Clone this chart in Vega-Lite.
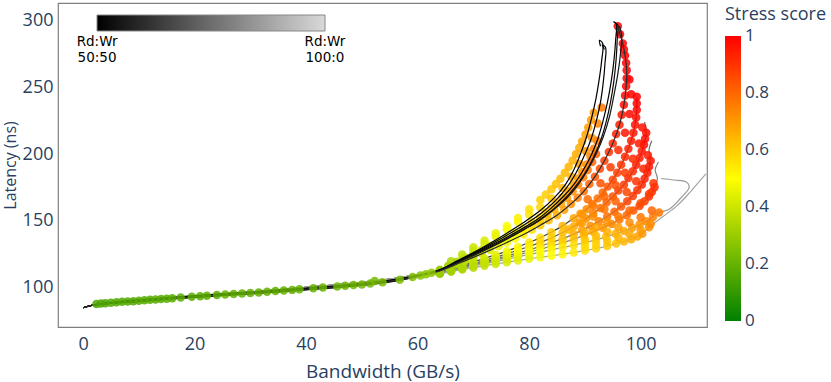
{
"$schema":"https://vega.github.io/schema/vega-lite/v6.json",
"width":649,"height":324,
"autosize":{"type":"none"},
"padding":{"left":58,"top":3,"right":124,"bottom":55},
"background":"white",
"config":{
 "view":{"stroke":"#808080","strokeWidth":1.2},
 "font":"Open Sans",
 "axis":{"grid":false,"ticks":false,"tickSize":0,"domain":false,"labelFont":"Open Sans","labelFontSize":18,"labelColor":"#2a3f5f","titleFont":"Open Sans","titleFontSize":18,"titleFontWeight":"normal","titleColor":"#2a3f5f"}
},
"data":{"values":[
{"c":"a","r":50,"x":0,"y":84.5},{"c":"a","r":50,"x":2,"y":86.6},{"c":"a","r":50,"x":5,"y":88.6},{"c":"a","r":50,"x":10,"y":90.4},{"c":"a","r":50,"x":20,"y":93.6},{"c":"a","r":50,"x":30,"y":96.2},{"c":"a","r":50,"x":40,"y":99.2},{"c":"a","r":50,"x":50,"y":102.6},{"c":"a","r":50,"x":56,"y":105.8},{"c":"a","r":50,"x":60,"y":108.8},
{"c":"a","r":50,"x":62,"y":110.8},{"c":"a","r":50,"x":64,"y":113},{"c":"a","r":50,"x":67,"y":119.5},{"c":"a","r":50,"x":70,"y":126},{"c":"a","r":50,"x":73,"y":133},{"c":"a","r":50,"x":76,"y":140.5},{"c":"a","r":50,"x":79,"y":148.5},{"c":"a","r":50,"x":82,"y":157.5},{"c":"a","r":50,"x":84.5,"y":167},{"c":"a","r":50,"x":86.5,"y":177},{"c":"a","r":50,"x":88,"y":188},{"c":"a","r":50,"x":89.2,"y":200},{"c":"a","r":50,"x":90.3,"y":213},{"c":"a","r":50,"x":91.2,"y":227},{"c":"a","r":50,"x":92,"y":242},{"c":"a","r":50,"x":92.6,"y":257},{"c":"a","r":50,"x":93,"y":270},{"c":"a","r":50,"x":93.2,"y":283},{"c":"a","r":50,"x":92.6,"y":285.5},{"c":"a","r":50,"x":92.8,"y":281},
{"c":"b","r":50,"x":0,"y":84.5},{"c":"b","r":50,"x":2,"y":86.6},{"c":"b","r":50,"x":5,"y":88.3},{"c":"b","r":50,"x":10,"y":90},{"c":"b","r":50,"x":20,"y":93.2},{"c":"b","r":50,"x":30,"y":95.8},{"c":"b","r":50,"x":40,"y":98.8},{"c":"b","r":50,"x":50,"y":102.2},{"c":"b","r":50,"x":56,"y":105.4},{"c":"b","r":50,"x":60,"y":108.5},
{"c":"b","r":50,"x":62,"y":110.5},{"c":"b","r":50,"x":64,"y":112.8},{"c":"b","r":50,"x":67,"y":119},{"c":"b","r":50,"x":70,"y":125.3},{"c":"b","r":50,"x":73,"y":132},{"c":"b","r":50,"x":76,"y":139},{"c":"b","r":50,"x":79,"y":146.5},{"c":"b","r":50,"x":82,"y":155},{"c":"b","r":50,"x":84.5,"y":164},{"c":"b","r":50,"x":86.6,"y":174},{"c":"b","r":50,"x":88.3,"y":185},{"c":"b","r":50,"x":89.7,"y":197},{"c":"b","r":50,"x":91,"y":210},{"c":"b","r":50,"x":92,"y":224},{"c":"b","r":50,"x":92.8,"y":239},{"c":"b","r":50,"x":93.3,"y":254},{"c":"b","r":50,"x":93.6,"y":268},{"c":"b","r":50,"x":93.7,"y":280},{"c":"b","r":50,"x":93.1,"y":282},{"c":"b","r":50,"x":93.5,"y":278.5},
{"c":"d","r":50,"x":0,"y":84.5},{"c":"d","r":50,"x":2,"y":86.6},{"c":"d","r":50,"x":5,"y":88},{"c":"d","r":50,"x":10,"y":89.6},{"c":"d","r":50,"x":20,"y":92.8},{"c":"d","r":50,"x":30,"y":95.4},{"c":"d","r":50,"x":40,"y":98.4},{"c":"d","r":50,"x":50,"y":101.8},{"c":"d","r":50,"x":56,"y":105},{"c":"d","r":50,"x":60,"y":108.3},
{"c":"d","r":50,"x":62,"y":110.4},{"c":"d","r":50,"x":64,"y":113,"s":0.3},{"c":"d","r":50,"x":67,"y":119,"s":0.35},{"c":"d","r":50,"x":70,"y":125,"s":0.39},{"c":"d","r":50,"x":73,"y":131,"s":0.43},{"c":"d","r":50,"x":76,"y":137.5,"s":0.47},{"c":"d","r":50,"x":79,"y":144.5,"s":0.53},{"c":"d","r":50,"x":82,"y":152.5,"s":0.58},{"c":"d","r":50,"x":84,"y":159.5,"s":0.62},{"c":"d","r":50,"x":86,"y":167.5,"s":0.65},{"c":"d","r":50,"x":88,"y":177,"s":0.68},{"c":"d","r":50,"x":89.5,"y":186.5,"s":0.71},{"c":"d","r":50,"x":91,"y":198,"s":0.74},{"c":"d","r":50,"x":92.2,"y":210,"s":0.77},{"c":"d","r":50,"x":93.2,"y":224},{"c":"d","r":50,"x":94,"y":238},{"c":"d","r":50,"x":94.7,"y":254},{"c":"d","r":50,"x":95.2,"y":270},{"c":"d","r":50,"x":95.5,"y":285},{"c":"d","r":50,"x":95.6,"y":298},{"c":"d","r":50,"x":95.1,"y":299.5},
{"c":"e","r":52,"x":0,"y":84.5},{"c":"e","r":52,"x":2,"y":86.6},{"c":"e","r":52,"x":5,"y":87.8},{"c":"e","r":52,"x":10,"y":89.3},{"c":"e","r":52,"x":20,"y":92.5},{"c":"e","r":52,"x":30,"y":95.1},{"c":"e","r":52,"x":40,"y":98.1},{"c":"e","r":52,"x":50,"y":101.5},{"c":"e","r":52,"x":56,"y":104.7},{"c":"e","r":52,"x":60,"y":108.1},
{"c":"e","r":52,"x":62,"y":110.3},{"c":"e","r":52,"x":64,"y":112.8},{"c":"e","r":52,"x":67,"y":118.5},{"c":"e","r":52,"x":70,"y":124.3},{"c":"e","r":52,"x":73,"y":130.2},{"c":"e","r":52,"x":76,"y":136.5},{"c":"e","r":52,"x":79,"y":143.3},{"c":"e","r":52,"x":82,"y":151},{"c":"e","r":52,"x":84.2,"y":158},{"c":"e","r":52,"x":86.3,"y":166},{"c":"e","r":52,"x":88.3,"y":175.5},{"c":"e","r":52,"x":90,"y":185.5},{"c":"e","r":52,"x":91.5,"y":197},{"c":"e","r":52,"x":92.8,"y":210},{"c":"e","r":52,"x":93.8,"y":224},{"c":"e","r":52,"x":94.6,"y":239},{"c":"e","r":52,"x":95.2,"y":255},{"c":"e","r":52,"x":95.6,"y":271},{"c":"e","r":52,"x":95.8,"y":286},{"c":"e","r":52,"x":95.9,"y":297},{"c":"e","r":52,"x":95.4,"y":298.5},
{"c":"f","r":55,"x":0,"y":84.5},{"c":"f","r":55,"x":2,"y":86.6},{"c":"f","r":55,"x":5,"y":87.7},{"c":"f","r":55,"x":10,"y":89.1},{"c":"f","r":55,"x":20,"y":92.3},{"c":"f","r":55,"x":30,"y":94.9},{"c":"f","r":55,"x":40,"y":97.9},{"c":"f","r":55,"x":50,"y":101.3},{"c":"f","r":55,"x":56,"y":104.5},{"c":"f","r":55,"x":60,"y":108},
{"c":"f","r":55,"x":62,"y":110.2},{"c":"f","r":55,"x":64,"y":112.5,"s":0.3},{"c":"f","r":55,"x":67,"y":118,"s":0.35},{"c":"f","r":55,"x":70,"y":123.5,"s":0.39},{"c":"f","r":55,"x":73,"y":129.5,"s":0.43},{"c":"f","r":55,"x":76,"y":136,"s":0.48},{"c":"f","r":55,"x":79,"y":143,"s":0.54},{"c":"f","r":55,"x":82,"y":150.5,"s":0.6},{"c":"f","r":55,"x":84.5,"y":158.5,"s":0.65},{"c":"f","r":55,"x":86.8,"y":167,"s":0.7},{"c":"f","r":55,"x":88.8,"y":177,"s":0.74},{"c":"f","r":55,"x":90.5,"y":188,"s":0.78},{"c":"f","r":55,"x":92,"y":200,"s":0.82},{"c":"f","r":55,"x":93.3,"y":213},{"c":"f","r":55,"x":94.4,"y":228},{"c":"f","r":55,"x":95.2,"y":244},{"c":"f","r":55,"x":95.9,"y":260},{"c":"f","r":55,"x":96.4,"y":276},{"c":"f","r":55,"x":96.6,"y":289},{"c":"f","r":55,"x":96.2,"y":296},
{"c":"g","r":60,"x":0,"y":84.5},{"c":"g","r":60,"x":2,"y":86.6},{"c":"g","r":60,"x":5,"y":88},{"c":"g","r":60,"x":10,"y":89.6},{"c":"g","r":60,"x":20,"y":92.8},{"c":"g","r":60,"x":30,"y":95.4},{"c":"g","r":60,"x":40,"y":98.4},{"c":"g","r":60,"x":50,"y":101.8},{"c":"g","r":60,"x":56,"y":105},{"c":"g","r":60,"x":60,"y":108.3},
{"c":"g","r":60,"x":62,"y":110},{"c":"g","r":60,"x":64,"y":112.2,"s":0.3},{"c":"g","r":60,"x":67,"y":117.2,"s":0.35},{"c":"g","r":60,"x":70,"y":122.3,"s":0.39},{"c":"g","r":60,"x":73,"y":127.8,"s":0.43},{"c":"g","r":60,"x":76,"y":133.5,"s":0.48},{"c":"g","r":60,"x":79,"y":139.5,"s":0.53},{"c":"g","r":60,"x":82,"y":146.5,"s":0.6},{"c":"g","r":60,"x":85,"y":154,"s":0.66},{"c":"g","r":60,"x":87.5,"y":162.5,"s":0.72},{"c":"g","r":60,"x":89.8,"y":172,"s":0.78},{"c":"g","r":60,"x":91.8,"y":183,"s":0.84},{"c":"g","r":60,"x":93.5,"y":195,"s":0.88},{"c":"g","r":60,"x":95,"y":208,"s":0.92},{"c":"g","r":60,"x":96.2,"y":222,"s":0.95},{"c":"g","r":60,"x":97,"y":237,"s":0.97},{"c":"g","r":60,"x":97.4,"y":251,"s":0.99},{"c":"g","r":60,"x":97.5,"y":263,"s":1},{"c":"g","r":60,"x":97.2,"y":274,"s":1},{"c":"g","r":60,"x":96.8,"y":283,"s":1},{"c":"g","r":60,"x":96.3,"y":290,"s":1},{"c":"g","r":60,"x":95.9,"y":296,"s":1},
{"c":"h","r":65,"x":0,"y":84.5},{"c":"h","r":65,"x":2,"y":86.7},{"c":"h","r":65,"x":5,"y":88.2},{"c":"h","r":65,"x":10,"y":90},{"c":"h","r":65,"x":20,"y":93.3},{"c":"h","r":65,"x":30,"y":96.2},{"c":"h","r":65,"x":40,"y":99.8},{"c":"h","r":65,"x":50,"y":103.5},{"c":"h","r":65,"x":56,"y":106.6},{"c":"h","r":65,"x":60,"y":109.3},
{"c":"h","r":65,"x":62,"y":109.9},{"c":"h","r":65,"x":64,"y":111.6,"s":0.3},{"c":"h","r":65,"x":66,"y":114,"s":0.33},{"c":"h","r":65,"x":68,"y":116.5,"s":0.36},{"c":"h","r":65,"x":70,"y":119,"s":0.39},{"c":"h","r":65,"x":72,"y":121.5,"s":0.42},{"c":"h","r":65,"x":74,"y":124.2,"s":0.45},{"c":"h","r":65,"x":76,"y":127,"s":0.48},{"c":"h","r":65,"x":78,"y":130.2,"s":0.51},{"c":"h","r":65,"x":80,"y":133.5,"s":0.54},{"c":"h","r":65,"x":82,"y":137,"s":0.57},{"c":"h","r":65,"x":84,"y":141.3,"s":0.6},{"c":"h","r":65,"x":86,"y":146,"s":0.64},{"c":"h","r":65,"x":88,"y":151.8,"s":0.68},{"c":"h","r":65,"x":90.3,"y":158.5,"s":0.73},{"c":"h","r":65,"x":92.3,"y":166.5,"s":0.78},{"c":"h","r":65,"x":94.1,"y":175.5,"s":0.83},{"c":"h","r":65,"x":95.8,"y":186,"s":0.88},{"c":"h","r":65,"x":97.2,"y":198,"s":0.92},{"c":"h","r":65,"x":98.3,"y":210,"s":0.95},{"c":"h","r":65,"x":99,"y":222,"s":0.97},{"c":"h","r":65,"x":99.3,"y":233,"s":0.99},{"c":"h","r":65,"x":99.3,"y":243,"s":1},
{"c":"i","r":70,"x":0,"y":84.5},{"c":"i","r":70,"x":2,"y":86.7},{"c":"i","r":70,"x":5,"y":88.2},{"c":"i","r":70,"x":10,"y":90},{"c":"i","r":70,"x":20,"y":93.3},{"c":"i","r":70,"x":30,"y":96.2},{"c":"i","r":70,"x":40,"y":99.8},{"c":"i","r":70,"x":50,"y":103.5},{"c":"i","r":70,"x":56,"y":106.6},{"c":"i","r":70,"x":60,"y":109.3},
{"c":"i","r":70,"x":62,"y":109.8},{"c":"i","r":70,"x":64,"y":111.2,"s":0.3},{"c":"i","r":70,"x":66,"y":113.3,"s":0.33},{"c":"i","r":70,"x":68,"y":115.5,"s":0.36},{"c":"i","r":70,"x":70,"y":117.7,"s":0.39},{"c":"i","r":70,"x":72,"y":120,"s":0.42},{"c":"i","r":70,"x":74,"y":122.4,"s":0.45},{"c":"i","r":70,"x":76,"y":125,"s":0.48},{"c":"i","r":70,"x":78,"y":127.7,"s":0.51},{"c":"i","r":70,"x":80,"y":130.5,"s":0.54},{"c":"i","r":70,"x":82,"y":133.6,"s":0.57},{"c":"i","r":70,"x":84,"y":137,"s":0.6},{"c":"i","r":70,"x":86,"y":141,"s":0.63},{"c":"i","r":70,"x":88,"y":145.5,"s":0.67},{"c":"i","r":70,"x":90.2,"y":151.5,"s":0.72},{"c":"i","r":70,"x":92.8,"y":159.5,"s":0.78},{"c":"i","r":70,"x":95,"y":168,"s":0.84},{"c":"i","r":70,"x":97,"y":177,"s":0.89},{"c":"i","r":70,"x":98.6,"y":187,"s":0.92},{"c":"i","r":70,"x":99.8,"y":197,"s":0.95},{"c":"i","r":70,"x":100.6,"y":207,"s":0.97},{"c":"i","r":70,"x":101,"y":216,"s":0.98},{"c":"i","r":70,"x":100.7,"y":224},
{"c":"j","r":75,"x":0,"y":84.5},{"c":"j","r":75,"x":2,"y":86.7},{"c":"j","r":75,"x":5,"y":88.2},{"c":"j","r":75,"x":10,"y":90},{"c":"j","r":75,"x":20,"y":93.3},{"c":"j","r":75,"x":30,"y":96.2},{"c":"j","r":75,"x":40,"y":99.8},{"c":"j","r":75,"x":50,"y":103.5},{"c":"j","r":75,"x":56,"y":106.6},{"c":"j","r":75,"x":60,"y":109.3},
{"c":"j","r":75,"x":62,"y":109.7},{"c":"j","r":75,"x":64,"y":110.9,"s":0.3},{"c":"j","r":75,"x":66,"y":112.9,"s":0.33},{"c":"j","r":75,"x":68,"y":115,"s":0.35},{"c":"j","r":75,"x":70,"y":117,"s":0.38},{"c":"j","r":75,"x":72,"y":119,"s":0.41},{"c":"j","r":75,"x":74,"y":121.2,"s":0.44},{"c":"j","r":75,"x":76,"y":123.5,"s":0.47},{"c":"j","r":75,"x":78,"y":125.7,"s":0.5},{"c":"j","r":75,"x":80,"y":128,"s":0.53},{"c":"j","r":75,"x":82,"y":130.7,"s":0.56},{"c":"j","r":75,"x":84,"y":133.5,"s":0.59},{"c":"j","r":75,"x":86,"y":136.4,"s":0.62},{"c":"j","r":75,"x":88,"y":139.8,"s":0.66},{"c":"j","r":75,"x":91,"y":146,"s":0.72},{"c":"j","r":75,"x":94,"y":153,"s":0.78},{"c":"j","r":75,"x":96.5,"y":160.5,"s":0.84},{"c":"j","r":75,"x":98.6,"y":168.5,"s":0.89},{"c":"j","r":75,"x":100.2,"y":177,"s":0.92},{"c":"j","r":75,"x":101.2,"y":186,"s":0.95},{"c":"j","r":75,"x":101.8,"y":195,"s":0.96},{"c":"j","r":75,"x":101.5,"y":203},{"c":"j","r":75,"x":102,"y":210},
{"c":"k","r":80,"x":0,"y":84.5},{"c":"k","r":80,"x":2,"y":86.7},{"c":"k","r":80,"x":5,"y":88.2},{"c":"k","r":80,"x":10,"y":90},{"c":"k","r":80,"x":20,"y":93.3},{"c":"k","r":80,"x":30,"y":96.2},{"c":"k","r":80,"x":40,"y":99.8},{"c":"k","r":80,"x":50,"y":103.5},{"c":"k","r":80,"x":56,"y":106.6},{"c":"k","r":80,"x":60,"y":109.3},
{"c":"k","r":80,"x":62,"y":109.6},{"c":"k","r":80,"x":64,"y":110.6,"s":0.3},{"c":"k","r":80,"x":66,"y":112.5,"s":0.32},{"c":"k","r":80,"x":68,"y":114.5,"s":0.35},{"c":"k","r":80,"x":70,"y":116.4,"s":0.37},{"c":"k","r":80,"x":72,"y":118.3,"s":0.4},{"c":"k","r":80,"x":74,"y":120.3,"s":0.43},{"c":"k","r":80,"x":76,"y":122.3,"s":0.45},{"c":"k","r":80,"x":78,"y":124.3,"s":0.48},{"c":"k","r":80,"x":80,"y":126.3,"s":0.5},{"c":"k","r":80,"x":82,"y":128.5,"s":0.53},{"c":"k","r":80,"x":84,"y":130.8,"s":0.56},{"c":"k","r":80,"x":86,"y":133.3,"s":0.59},{"c":"k","r":80,"x":88,"y":136,"s":0.62},{"c":"k","r":80,"x":91.5,"y":141.5,"s":0.68},{"c":"k","r":80,"x":94.8,"y":147.5,"s":0.74},{"c":"k","r":80,"x":97.5,"y":154,"s":0.8},{"c":"k","r":80,"x":99.8,"y":161,"s":0.86},{"c":"k","r":80,"x":101.5,"y":168,"s":0.9},{"c":"k","r":80,"x":102.5,"y":175,"s":0.92},{"c":"k","r":80,"x":103,"y":182},{"c":"k","r":80,"x":102.6,"y":188},{"c":"k","r":80,"x":103.2,"y":194},
{"c":"l","r":85,"x":0,"y":84.5},{"c":"l","r":85,"x":2,"y":86.7},{"c":"l","r":85,"x":5,"y":88.2},{"c":"l","r":85,"x":10,"y":90},{"c":"l","r":85,"x":20,"y":93.3},{"c":"l","r":85,"x":30,"y":96.2},{"c":"l","r":85,"x":40,"y":99.8},{"c":"l","r":85,"x":50,"y":103.5},{"c":"l","r":85,"x":56,"y":106.6},{"c":"l","r":85,"x":60,"y":109.3},
{"c":"l","r":85,"x":62,"y":109.5},{"c":"l","r":85,"x":64,"y":110.3,"s":0.3},{"c":"l","r":85,"x":66,"y":112.2,"s":0.32},{"c":"l","r":85,"x":68,"y":114,"s":0.34},{"c":"l","r":85,"x":70,"y":115.8,"s":0.37},{"c":"l","r":85,"x":72,"y":117.5,"s":0.39},{"c":"l","r":85,"x":74,"y":119.2,"s":0.41},{"c":"l","r":85,"x":76,"y":121,"s":0.44},{"c":"l","r":85,"x":78,"y":122.7,"s":0.46},{"c":"l","r":85,"x":80,"y":124.5,"s":0.48},{"c":"l","r":85,"x":82,"y":126.2,"s":0.5},{"c":"l","r":85,"x":84,"y":128,"s":0.52},{"c":"l","r":85,"x":86,"y":129.7,"s":0.54},{"c":"l","r":85,"x":88,"y":131.5,"s":0.56},{"c":"l","r":85,"x":90,"y":133.4,"s":0.58},{"c":"l","r":85,"x":92,"y":135.5,"s":0.6},{"c":"l","r":85,"x":95.5,"y":140,"s":0.65},{"c":"l","r":85,"x":98.5,"y":144.5,"s":0.69},{"c":"l","r":85,"x":101,"y":149.5,"s":0.73},{"c":"l","r":85,"x":103.3,"y":156,"s":0.77},{"c":"l","r":85,"x":105.1,"y":158.5},{"c":"l","r":85,"x":107,"y":166},{"c":"l","r":85,"x":108.7,"y":175},{"c":"l","r":85,"x":108.3,"y":178.7},{"c":"l","r":85,"x":106,"y":180.5},{"c":"l","r":85,"x":103.7,"y":181.6},
{"c":"m","r":88,"x":0,"y":84.5},{"c":"m","r":88,"x":2,"y":86.7},{"c":"m","r":88,"x":5,"y":88.2},{"c":"m","r":88,"x":10,"y":90},{"c":"m","r":88,"x":20,"y":93.3},{"c":"m","r":88,"x":30,"y":96.2},{"c":"m","r":88,"x":40,"y":99.8},{"c":"m","r":88,"x":50,"y":103.5},{"c":"m","r":88,"x":56,"y":106.6},{"c":"m","r":88,"x":60,"y":109.3},
{"c":"m","r":88,"x":62,"y":109.4},{"c":"m","r":88,"x":64,"y":110,"s":0.3},{"c":"m","r":88,"x":66,"y":111.6,"s":0.32},{"c":"m","r":88,"x":68,"y":113.2,"s":0.34},{"c":"m","r":88,"x":70,"y":114.6,"s":0.36},{"c":"m","r":88,"x":72,"y":116,"s":0.38},{"c":"m","r":88,"x":74,"y":117.4,"s":0.4},{"c":"m","r":88,"x":76,"y":118.7,"s":0.42},{"c":"m","r":88,"x":78,"y":120,"s":0.44},{"c":"m","r":88,"x":80,"y":121.2,"s":0.46},{"c":"m","r":88,"x":82,"y":122.4,"s":0.48},{"c":"m","r":88,"x":84,"y":123.5,"s":0.5},{"c":"m","r":88,"x":86,"y":124.7,"s":0.52},{"c":"m","r":88,"x":88,"y":126,"s":0.54},{"c":"m","r":88,"x":90,"y":127.4,"s":0.56},{"c":"m","r":88,"x":92,"y":129,"s":0.58},{"c":"m","r":88,"x":94,"y":130.8,"s":0.6},{"c":"m","r":88,"x":95.6,"y":132.7,"s":0.62},{"c":"m","r":88,"x":97,"y":134.3,"s":0.64},{"c":"m","r":88,"x":98.3,"y":136,"s":0.66},{"c":"m","r":88,"x":99.4,"y":138,"s":0.68},{"c":"m","r":88,"x":100.3,"y":140,"s":0.7},{"c":"m","r":88,"x":101.5,"y":145,"s":0.72},{"c":"m","r":88,"x":104,"y":153},{"c":"m","r":88,"x":106.5,"y":161},{"c":"m","r":88,"x":109,"y":172},{"c":"m","r":88,"x":111.7,"y":185},
{"x":66,"y":119.5,"s":0.34},{"x":68,"y":124.5,"s":0.37},{"x":70,"y":130,"s":0.4},{"x":72,"y":135,"s":0.43},{"x":74,"y":140.5,"s":0.46},{"x":76,"y":146,"s":0.5},{"x":78,"y":152,"s":0.53},{"x":80,"y":158.5,"s":0.56},{"x":82,"y":165.5,"s":0.59},{"x":83,"y":169.5,"s":0.6},{"x":84,"y":173.5,"s":0.61},{"x":84.8,"y":177.5,"s":0.62},{"x":85.6,"y":181.5,"s":0.63},{"x":86.4,"y":186,"s":0.64},{"x":87.1,"y":190.5,"s":0.65},{"x":87.8,"y":195.2,"s":0.655},{"x":88.4,"y":200,"s":0.66},{"x":89,"y":204.7,"s":0.665},{"x":89.5,"y":209.5,"s":0.67},{"x":90.1,"y":214.7,"s":0.68},{"x":90.6,"y":220,"s":0.69},{"x":91.1,"y":225.5,"s":0.695},{"x":91.6,"y":231,"s":0.7},
{"x":68,"y":121,"s":0.36},{"x":70,"y":127.5,"s":0.39},{"x":72,"y":132.5,"s":0.42},{"x":74,"y":138,"s":0.45},{"x":76,"y":143.5,"s":0.49},{"x":78,"y":149,"s":0.52},{"x":80,"y":154.5,"s":0.55},{"x":82,"y":160,"s":0.58},{"x":84,"y":166.5,"s":0.61},{"x":86,"y":174.5,"s":0.64},{"x":87.6,"y":183,"s":0.66},{"x":89,"y":192.5,"s":0.68},{"x":90.2,"y":202,"s":0.7},{"x":91.3,"y":212,"s":0.72},{"x":92.3,"y":223,"s":0.74},{"x":93,"y":235,"s":0.76},
{"x":65.5,"y":116,"s":0.33},{"x":68.5,"y":122,"s":0.37},{"x":71.5,"y":128,"s":0.41},{"x":74.5,"y":134.2,"s":0.45},{"x":77.5,"y":141,"s":0.5},{"x":80.5,"y":148.5,"s":0.56},{"x":83,"y":156,"s":0.6},{"x":85,"y":163.5,"s":0.64},{"x":87,"y":172.2,"s":0.67},{"x":88.8,"y":181.7,"s":0.7},{"x":90.3,"y":192.2,"s":0.73},{"x":91.6,"y":204,"s":0.76},
{"x":65.5,"y":115.2,"s":0.33},{"x":68.5,"y":120.7,"s":0.37},{"x":71.5,"y":126.5,"s":0.41},{"x":74.5,"y":132.7,"s":0.46},{"x":77.5,"y":139.5,"s":0.51},{"x":80.5,"y":146.7,"s":0.57},{"x":83.3,"y":154.5,"s":0.63},{"x":85.7,"y":162.7,"s":0.68},{"x":87.8,"y":172,"s":0.72},{"x":89.7,"y":182.5,"s":0.76},{"x":91.3,"y":194,"s":0.8},
{"x":65.5,"y":114.7,"s":0.33},{"x":68.5,"y":119.7,"s":0.37},{"x":71.5,"y":125,"s":0.41},{"x":74.5,"y":130.6,"s":0.46},{"x":77.5,"y":136.5,"s":0.5},{"x":80.5,"y":143,"s":0.56},{"x":83.5,"y":150.2,"s":0.63},{"x":86.3,"y":158.2,"s":0.69},{"x":88.7,"y":167.2,"s":0.75},{"x":90.8,"y":177.5,"s":0.81},{"x":92.7,"y":189,"s":0.86},{"x":94.3,"y":201.5,"s":0.9},{"x":95.6,"y":215,"s":0.94},{"x":96.6,"y":229.5,"s":0.96},{"x":97.2,"y":244,"s":0.98},{"x":97.5,"y":257,"s":1},{"x":97.4,"y":268.5,"s":1},{"x":97,"y":278.5,"s":1},
{"x":89.2,"y":155.2,"s":0.7},{"x":91.3,"y":162.5,"s":0.76},{"x":93.2,"y":171,"s":0.8},{"x":95,"y":180.7,"s":0.86},{"x":96.5,"y":192,"s":0.9},{"x":97.8,"y":204,"s":0.94},{"x":98.7,"y":216,"s":0.96},{"x":99.2,"y":227.5,"s":0.98},{"x":99.3,"y":238,"s":1},
{"x":87.1,"y":143.2,"s":0.65},{"x":89.1,"y":148.5,"s":0.7},{"x":91.5,"y":155.5,"s":0.75},{"x":93.9,"y":163.7,"s":0.81},{"x":96,"y":172.5,"s":0.87},{"x":97.8,"y":182,"s":0.91},{"x":99.2,"y":192,"s":0.94},{"x":100.2,"y":202,"s":0.96},{"x":100.8,"y":211.5,"s":0.98},
{"x":89.5,"y":142.9,"s":0.69},{"x":92.5,"y":149.5,"s":0.75},{"x":95.3,"y":156.7,"s":0.81},{"x":97.6,"y":164.5,"s":0.87},{"x":99.4,"y":172.7,"s":0.91},{"x":100.7,"y":181.5,"s":0.94},{"x":101.5,"y":190.5,"s":0.96},
{"x":89.8,"y":138.7,"s":0.65},{"x":93.2,"y":144.5,"s":0.71},{"x":96.2,"y":150.7,"s":0.77},{"x":98.7,"y":157.5,"s":0.83},{"x":100.7,"y":164.5,"s":0.88},{"x":102,"y":171.5,"s":0.91},
{"x":93.8,"y":137.7,"s":0.62},{"x":97,"y":142.2,"s":0.67},{"x":99.8,"y":147,"s":0.71},{"x":102.2,"y":152.7,"s":0.75},
{"x":90.5,"y":166,"s":0.79},{"x":92.8,"y":178,"s":0.84},{"x":94.6,"y":190,"s":0.88},{"x":96,"y":203,"s":0.92},{"x":97.2,"y":216,"s":0.96},{"x":98,"y":230,"s":0.98},{"x":98.3,"y":245,"s":1},{"x":98,"y":256,"s":1},
{"x":90,"y":130.4,"s":0.57},{"x":92,"y":132.2,"s":0.59},{"x":94,"y":134.5,"s":0.62},{"x":96,"y":137,"s":0.645},{"x":98,"y":139.8,"s":0.67},{"x":100,"y":143,"s":0.7},{"x":101.8,"y":147.5,"s":0.73},
{"x":90,"y":135.8,"s":0.61},{"x":92,"y":138.5,"s":0.63},{"x":94,"y":141.5,"s":0.66},{"x":96,"y":145,"s":0.69},{"x":98,"y":148.5,"s":0.73},{"x":100,"y":152.5,"s":0.77},{"x":102,"y":157.5,"s":0.8},
{"x":90,"y":141,"s":0.65},{"x":92,"y":145,"s":0.68},{"x":94,"y":148.8,"s":0.72},{"x":96,"y":153,"s":0.76},{"x":98,"y":157.5,"s":0.8},{"x":100,"y":163,"s":0.85},{"x":101.5,"y":170,"s":0.88},{"x":102.3,"y":178,"s":0.9},
{"x":89.5,"y":148.2,"s":0.69},{"x":91.5,"y":153,"s":0.73},{"x":93.5,"y":158.5,"s":0.77},{"x":95.5,"y":164.5,"s":0.81},{"x":97.5,"y":171.5,"s":0.86},{"x":99.2,"y":179.5,"s":0.9},{"x":100.5,"y":189,"s":0.93},{"x":101.3,"y":199,"s":0.95},
{"x":89.5,"y":154.5,"s":0.71},{"x":91.5,"y":161,"s":0.76},{"x":93.5,"y":168,"s":0.8},{"x":95.5,"y":176.5,"s":0.85},{"x":97.2,"y":186,"s":0.89},{"x":98.6,"y":196.5,"s":0.92},{"x":99.7,"y":208,"s":0.95},{"x":100.3,"y":220,"s":0.97},
{"x":2.4,"y":87.2,"s":0.15},{"x":3.2,"y":87.6,"s":0.15},{"x":4,"y":87.9,"s":0.15},{"x":5,"y":88.3,"s":0.16},{"x":6,"y":88.6,"s":0.16},{"x":7,"y":88.9,"s":0.16},{"x":8,"y":89.1,"s":0.16},{"x":9,"y":89.4,"s":0.16},{"x":10,"y":89.8,"s":0.17},{"x":11,"y":90.1,"s":0.17},{"x":12,"y":90.4,"s":0.17},{"x":13,"y":90.7,"s":0.17},{"x":14,"y":91,"s":0.17},{"x":15,"y":91.3,"s":0.17},{"x":16,"y":91.6,"s":0.17},{"x":17.5,"y":92.1,"s":0.18},{"x":19.5,"y":92.7,"s":0.18},{"x":21,"y":93.1,"s":0.18},{"x":22.2,"y":93.4,"s":0.18},{"x":24,"y":94,"s":0.18},{"x":25.5,"y":94.4,"s":0.19},{"x":27,"y":94.8,"s":0.19},{"x":28.5,"y":95.2,"s":0.19},{"x":30,"y":95.6,"s":0.19},{"x":31.5,"y":96,"s":0.19},{"x":33,"y":96.5,"s":0.19},{"x":34.5,"y":97,"s":0.19},{"x":36,"y":97.4,"s":0.2},{"x":37.5,"y":97.9,"s":0.2},{"x":38.8,"y":98.3,"s":0.2},{"x":41.3,"y":99.2,"s":0.2},{"x":43,"y":99.7,"s":0.21},{"x":45.6,"y":100.5,"s":0.21},{"x":47,"y":101,"s":0.21},{"x":48.5,"y":101.5,"s":0.22},{"x":50,"y":102,"s":0.22},{"x":51.5,"y":102.7,"s":0.22},{"x":52.3,"y":104.5,"s":0.23},{"x":53.7,"y":103.7,"s":0.23},{"x":56.8,"y":105.5,"s":0.24},{"x":59.1,"y":107.5,"s":0.25},{"x":60.5,"y":108.7,"s":0.26},{"x":61.5,"y":109.7,"s":0.27},{"x":62.5,"y":110.7,"s":0.28}
]},
"encoding":{
 "x":{"field":"x","type":"quantitative","scale":{"domain":[-4.5,111.9],"nice":false,"zero":false},"axis":{"values":[0,20,40,60,80,100],"title":"Bandwidth (GB/s)","titleFontSize":19,"labelPadding":8,"titleY":35}},
 "y":{"field":"y","type":"quantitative","scale":{"domain":[70,313.5],"nice":false,"zero":false},"axis":{"values":[100,150,200,250,300],"title":"Latency (ns)","titleFontSize":16,"labelPadding":5,"titleX":-40}}
},
"layer":[
 {"transform":[{"filter":"isValid(datum.c) && datum.r >= 62"}],
  "mark":{"type":"line","strokeWidth":1.2,"interpolate":"catmull-rom","clip":true,"order":false},
  "encoding":{"detail":{"field":"c"},
   "stroke":{"field":"r","type":"quantitative","scale":{"domain":[50,100],"range":["#000000","#d9d9d9"],"interpolate":"rgb"},
   "legend":{"orient":"none","legendX":39,"legendY":12,"direction":"horizontal","title":null,"gradientLength":228,"gradientThickness":16,"gradientStrokeColor":"#888888","gradientStrokeWidth":1,"values":[50.01,99.99],"labelExpr":"datum.value < 75 ? ['Rd:Wr', '50:50'] : ['Rd:Wr', '100:0']","labelFont":"DejaVu Sans","labelFontSize":13.5,"labelColor":"#000000","labelOffset":4,"labelOverlap":false,"padding":0}}}},
 {"transform":[{"filter":"isValid(datum.s) && datum.x >= 63"}],
  "mark":{"type":"circle","size":72,"fillOpacity":0.85},
  "encoding":{"fill":{"field":"s","type":"quantitative","scale":{"domain":[0,0.5,1],"range":["#008000","#ffff00","#ff0000"],"interpolate":"rgb"},
   "legend":{"orient":"none","legendX":667,"legendY":3,"direction":"vertical","title":"Stress score","titleFont":"Open Sans","titleFontSize":18,"titleFontWeight":"normal","titleColor":"#2a3f5f","titlePadding":12,"titleAnchor":"start","gradientLength":285,"gradientThickness":16,"gradientStrokeWidth":0,"values":[0.0001,0.2,0.4,0.6,0.8,0.9999],"format":".1~f","labelFont":"Open Sans","labelFontSize":17,"labelColor":"#2a3f5f","labelOffset":4,"labelOverlap":false,"padding":0}}}},
 {"transform":[{"filter":"isValid(datum.c) && datum.r < 62"}],
  "mark":{"type":"line","strokeWidth":1.2,"interpolate":"catmull-rom","clip":true,"order":false},
  "encoding":{"detail":{"field":"c"},
   "stroke":{"field":"r","type":"quantitative","scale":{"domain":[50,100],"range":["#000000","#d9d9d9"],"interpolate":"rgb"},
   "legend":{"orient":"none","legendX":39,"legendY":12,"direction":"horizontal","title":null,"gradientLength":228,"gradientThickness":16,"gradientStrokeColor":"#888888","gradientStrokeWidth":1,"values":[50.01,99.99],"labelExpr":"datum.value < 75 ? ['Rd:Wr', '50:50'] : ['Rd:Wr', '100:0']","labelFont":"DejaVu Sans","labelFontSize":13.5,"labelColor":"#000000","labelOffset":4,"labelOverlap":false,"padding":0}}}},
 {"transform":[{"filter":"isValid(datum.s) && datum.x < 63"}],
  "mark":{"type":"circle","size":72,"fillOpacity":0.85},
  "encoding":{"fill":{"field":"s","type":"quantitative","scale":{"domain":[0,0.5,1],"range":["#008000","#ffff00","#ff0000"],"interpolate":"rgb"},
   "legend":{"orient":"none","legendX":667,"legendY":3,"direction":"vertical","title":"Stress score","titleFont":"Open Sans","titleFontSize":18,"titleFontWeight":"normal","titleColor":"#2a3f5f","titlePadding":12,"titleAnchor":"start","gradientLength":285,"gradientThickness":16,"gradientStrokeWidth":0,"values":[0.0001,0.2,0.4,0.6,0.8,0.9999],"format":".1~f","labelFont":"Open Sans","labelFontSize":17,"labelColor":"#2a3f5f","labelOffset":4,"labelOverlap":false,"padding":0}}}}
]
}
